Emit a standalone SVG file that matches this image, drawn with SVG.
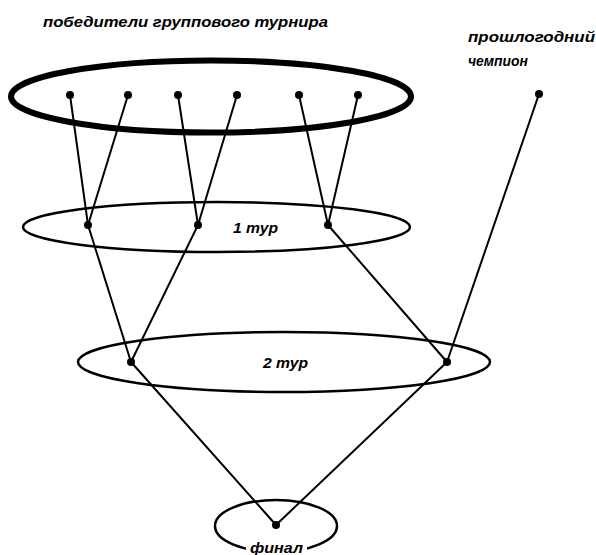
<svg xmlns="http://www.w3.org/2000/svg" width="596" height="555" viewBox="0 0 596 555">
<style>
.lbl{font-family:"Liberation Sans",Arial,sans-serif;font-weight:bold;font-style:italic;font-size:15px;fill:#000}
.ring{fill:none;stroke:#000;stroke-width:2.5}
.thick{stroke-width:6}
.dot{fill:#000}
.con line{stroke:#000;stroke-width:2}
</style>
<rect width="596" height="555" fill="#fff"/>
<g id="group-winners">
<ellipse class="ring thick" cx="211" cy="96.5" rx="200" ry="36"/>
<text class="lbl" x="43" y="27" textLength="285" lengthAdjust="spacingAndGlyphs">победители группового турнира</text>
</g>
<g id="round1">
<ellipse class="ring" cx="216.5" cy="227" rx="193.5" ry="25"/>
<text class="lbl" x="233" y="233" textLength="45" lengthAdjust="spacingAndGlyphs">1 тур</text>
</g>
<g id="round2">
<ellipse class="ring" cx="284" cy="362" rx="206" ry="30"/>
<text class="lbl" x="263" y="368" textLength="45" lengthAdjust="spacingAndGlyphs">2 тур</text>
</g>
<g id="champion-label">
<text class="lbl" x="468" y="42" textLength="127" lengthAdjust="spacingAndGlyphs">прошлогодний</text>
<text class="lbl" x="468" y="66" textLength="60" lengthAdjust="spacingAndGlyphs">чемпион</text>
</g>
<g class="con" id="connectors">
<line x1="70" y1="95" x2="88" y2="225"/>
<line x1="128" y1="95" x2="88" y2="225"/>
<line x1="178" y1="95" x2="198" y2="225"/>
<line x1="237" y1="95" x2="198" y2="225"/>
<line x1="299" y1="95" x2="328" y2="225"/>
<line x1="358" y1="95" x2="328" y2="225"/>
<line x1="88" y1="225" x2="131" y2="362"/>
<line x1="198" y1="225" x2="131" y2="362"/>
<line x1="328" y1="225" x2="447" y2="362"/>
<line x1="539" y1="94" x2="447" y2="362"/>
<line x1="131" y1="362" x2="276" y2="525"/>
<line x1="447" y1="362" x2="276" y2="525"/>
</g>
<g id="final">
<ellipse class="ring" cx="276" cy="526" rx="61" ry="26"/>
<rect x="246" y="539" width="61" height="16" fill="#fff"/>
<text class="lbl" x="250" y="553" textLength="53" lengthAdjust="spacingAndGlyphs">финал</text>
</g>
<g id="w1"><circle class="dot" cx="70" cy="95" r="4"/></g>
<g id="w2"><circle class="dot" cx="128" cy="95" r="4"/></g>
<g id="w3"><circle class="dot" cx="178" cy="95" r="4"/></g>
<g id="w4"><circle class="dot" cx="237" cy="95" r="4"/></g>
<g id="w5"><circle class="dot" cx="299" cy="95" r="4"/></g>
<g id="w6"><circle class="dot" cx="358" cy="95" r="4"/></g>
<g id="champ"><circle class="dot" cx="539" cy="94" r="4"/></g>
<g id="r1a"><circle class="dot" cx="88" cy="225" r="4"/></g>
<g id="r1b"><circle class="dot" cx="198" cy="225" r="4"/></g>
<g id="r1c"><circle class="dot" cx="328" cy="225" r="4"/></g>
<g id="r2a"><circle class="dot" cx="131" cy="362" r="4"/></g>
<g id="r2b"><circle class="dot" cx="447" cy="362" r="4"/></g>
<g id="fin"><circle class="dot" cx="276" cy="525" r="4"/></g>
</svg>
